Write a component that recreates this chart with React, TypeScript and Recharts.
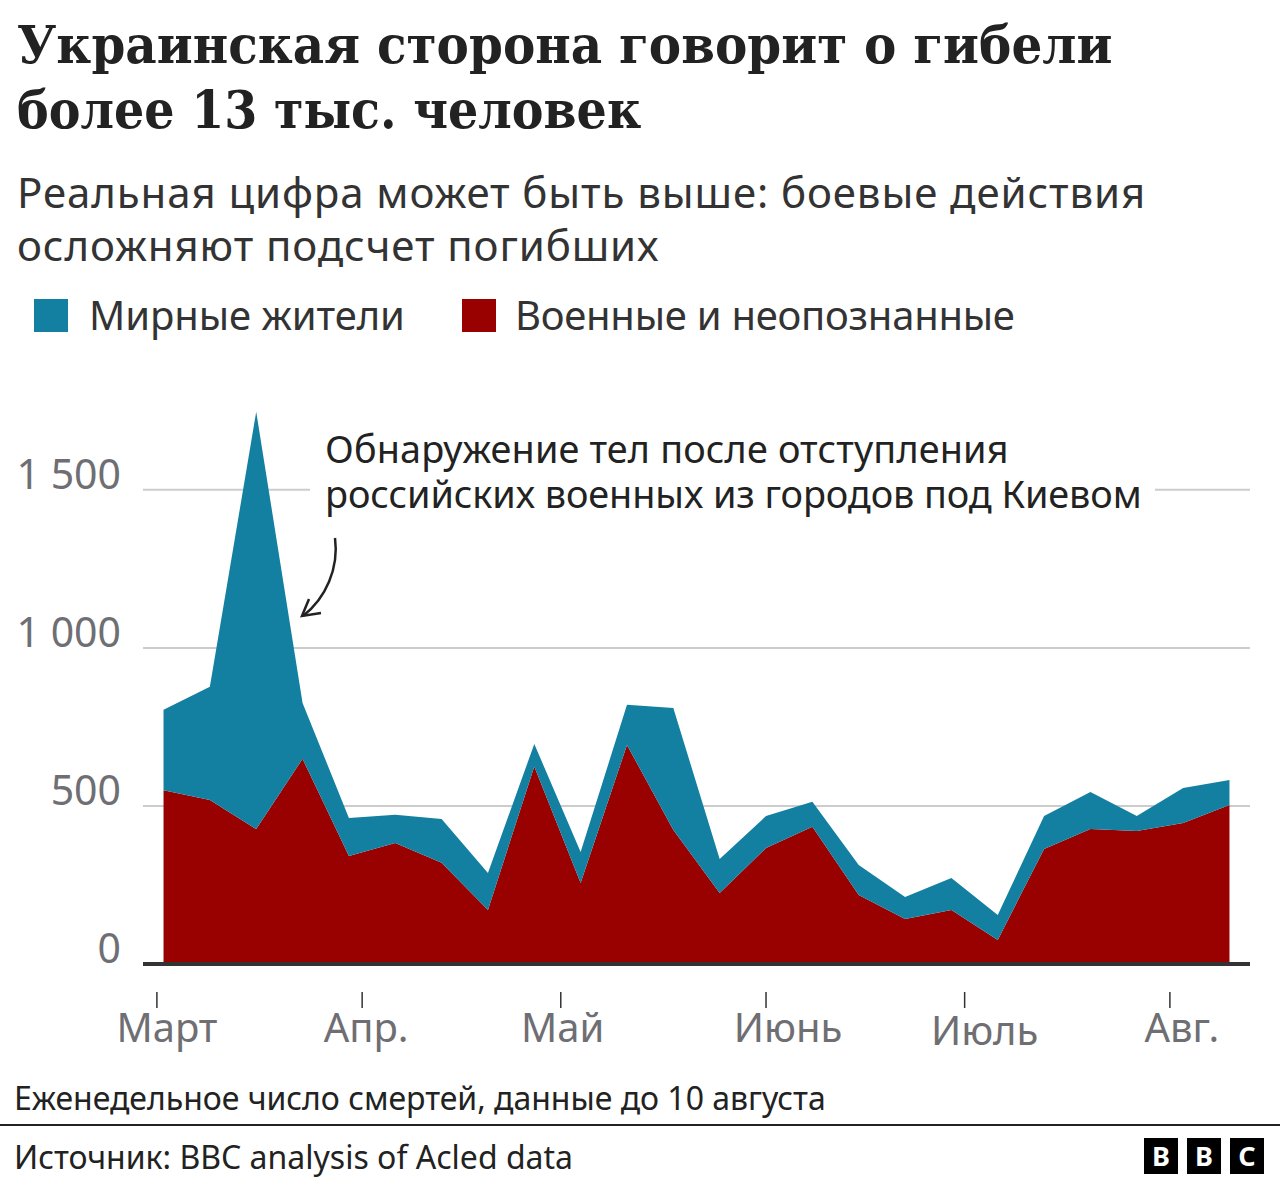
import React from 'react';
import { AreaChart, Area, XAxis, YAxis, CartesianGrid } from 'recharts';

const days = [1, 8, 15, 22, 29, 36, 43, 50, 57, 64, 71, 78, 85, 92, 99, 106, 113, 120, 127, 134, 141, 148, 155, 162];
const military = [550, 519, 427, 649, 342, 383, 320, 171, 625, 256, 693, 424, 225, 367, 434, 218, 142, 171, 76, 364, 427, 421, 446, 503];
const civilians = [254, 358, 1320, 177, 120, 89, 139, 117, 71, 98, 127, 386, 107, 101, 79, 95, 70, 101, 79, 104, 117, 47, 111, 79];
const monthTicks = [0, 31, 61, 92, 122, 153];
const monthLabels = ['Март', 'Апр.', 'Май', 'Июнь', 'Июль', 'Авг.'];
const monthLabelShift = [10, 4, 2, 22, 20, 12];
const monthLabelDrop = [0, 0, 0, 0, 3, 0];
const valueTicks = [0, 500, 1000, 1500];
const valueLabels = ['0', '500', '1 000', '1 500'];
const gridValues = [500, 1000, 1500];
const titleLines = ['Украинская сторона говорит о гибели', 'более 13 тыс. человек'];
const titleSqueeze = [0.933, 0.915];
const subtitleLines = ['Реальная цифра может быть выше: боевые действия', 'осложняют подсчет погибших'];
const annotationLines = ['Обнаружение тел после отступления', 'российских военных из городов под Киевом'];
const annotationSpacing = [0.15, -0.08];
const legendNames = ['Мирные жители', 'Военные и неопознанные'];

const BLUE = '#1380A1';
const RED = '#990000';
const SANS = '"Noto Sans", sans-serif';
const SERIF = '"DejaVu Serif", serif';

const rows = days.map((day, i) => ({ day, military: military[i], civilians: civilians[i] }));

const abs = (left: number, top: number, extra: React.CSSProperties = {}): React.CSSProperties => ({
  position: 'absolute', left, top, whiteSpace: 'nowrap', ...extra,
});

function ValueTick(props: any) {
  const label = valueLabels[valueTicks.indexOf(props.payload.value)];
  return (
    <text x={121} y={props.y - 1} textAnchor="end" fontFamily={SANS} fontSize={41} fill="#6e6e73">
      {label}
    </text>
  );
}

function MonthTick(props: any) {
  const i = monthTicks.indexOf(props.payload.value);
  return (
    <g>
      <line x1={props.x} x2={props.x} y1={992} y2={1008} stroke="#333" strokeWidth={1.5} />
      <text x={props.x + monthLabelShift[i]} y={1042 + monthLabelDrop[i]} textAnchor="middle" fontFamily={SANS} fontSize={40} fill="#6e6e73">
        {monthLabels[i]}
      </text>
    </g>
  );
}

export default function App() {
  return (
    <div style={{ position: 'absolute', left: 0, top: 0, width: 1280, height: 1186, background: '#fff', overflow: 'hidden' }}>
      <AreaChart
        width={1280}
        height={1186}
        data={rows}
        margin={{ top: 395, right: 30, bottom: 0, left: 0 }}
        style={{ position: 'absolute', left: 0, top: 0 }}
      >
        <CartesianGrid vertical={false} stroke="#cccccc" strokeWidth={2} horizontalValues={gridValues} />
        <XAxis
          dataKey="day"
          type="number"
          domain={[-2.1, 165.1]}
          ticks={monthTicks}
          interval={0}
          height={222}
          axisLine={{ stroke: '#333333', strokeWidth: 4 }}
          tickLine={false}
          tick={<MonthTick />}
        />
        <YAxis
          width={143}
          domain={[0, 1800]}
          ticks={valueTicks}
          interval={0}
          axisLine={false}
          tickLine={false}
          tick={<ValueTick />}
        />
        <Area dataKey="military" stackId="a" type="linear" fill={RED} fillOpacity={1} stroke="none" isAnimationActive={false} dot={false} activeDot={false} />
        <Area dataKey="civilians" stackId="a" type="linear" fill={BLUE} fillOpacity={1} stroke="none" isAnimationActive={false} dot={false} activeDot={false} />
      </AreaChart>

      {titleLines.map((t, i) => (
        <div key={t} style={abs(17, 10 + i * 65, { fontFamily: SERIF, fontWeight: 700, fontSize: 52, lineHeight: '70px', color: '#222', transform: `scaleX(${titleSqueeze[i]})`, transformOrigin: 'left center' })}>{t}</div>
      ))}
      {subtitleLines.map((t, i) => (
        <div key={t} style={abs(17, 165 + i * 53, { fontFamily: SANS, fontSize: 42, letterSpacing: 0.9, lineHeight: '53px', color: '#333' })}>{t}</div>
      ))}

      <div style={abs(34, 299, { width: 34, height: 33, background: BLUE })} />
      <div style={abs(89, 289, { fontFamily: SANS, fontSize: 40, letterSpacing: -0.05, lineHeight: '52px', color: '#333' })}>{legendNames[0]}</div>
      <div style={abs(462, 299, { width: 34, height: 33, background: RED })} />
      <div style={abs(515, 289, { fontFamily: SANS, fontSize: 40, letterSpacing: -0.25, lineHeight: '52px', color: '#333' })}>{legendNames[1]}</div>

      <div style={abs(310, 425, { width: 845, height: 92, background: '#fff' })} />
      {annotationLines.map((t, i) => (
        <div key={t} style={abs(325, 426 + i * 45, { fontFamily: SANS, fontSize: 37.8, letterSpacing: annotationSpacing[i], lineHeight: '45px', color: '#222' })}>{t}</div>
      ))}
      <svg width={1280} height={1186} style={{ position: 'absolute', left: 0, top: 0, pointerEvents: 'none' }}>
        <path d="M335 538 C339 568 326 598 303 616" fill="none" stroke="#222" strokeWidth={2.5} />
        <path d="M309 599 L302 616 L321 613" fill="none" stroke="#222" strokeWidth={2.5} />
      </svg>

      <div style={abs(14, 1077, { fontFamily: SANS, fontSize: 32, letterSpacing: -0.02, lineHeight: '42px', color: '#222' })}>Еженедельное число смертей, данные до 10 августа</div>
      <div style={abs(0, 1124, { width: 1280, height: 2, background: '#222' })} />
      <div style={abs(14, 1136, { fontFamily: SANS, fontSize: 32, lineHeight: '42px', color: '#222' })}>Источник: BBC analysis of Acled data</div>
      {['B', 'B', 'C'].map((c, i) => (
        <div key={i} style={abs(1144 + i * 43, 1138, { width: 34, height: 36, background: '#000', color: '#fff', fontFamily: SANS, fontWeight: 700, fontSize: 27, lineHeight: '36px', textAlign: 'center' })}>{c}</div>
      ))}
    </div>
  );
}
